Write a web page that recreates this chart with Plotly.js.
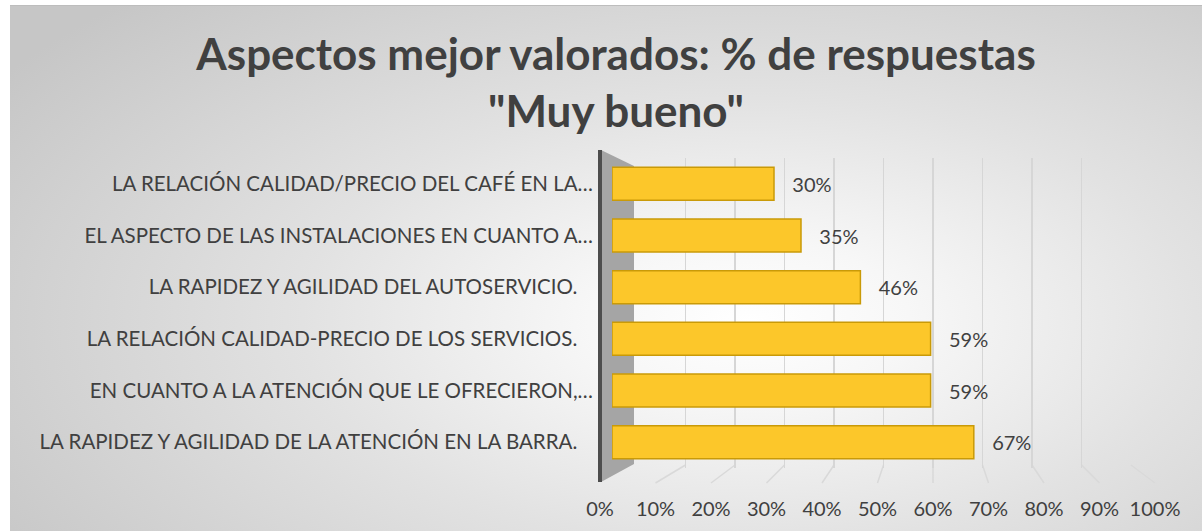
<!DOCTYPE html>
<html>
<head>
<meta charset="utf-8">
<script src="https://cdn.plot.ly/plotly-3.0.1.min.js"></script>
<style>
  html, body { margin: 0; padding: 0; background: #ffffff; }
  #wrap { position: relative; width: 1202px; height: 531px; overflow: hidden; background: #ffffff; }
  #bg { position: absolute; left: 10px; top: 5px; width: 1192px; height: 526px;
        border-top: 1px solid #bdbdbd;
        background: radial-gradient(ellipse 75% 85% at 62% 60%, #ffffff 0%, #f7f7f7 18%, #e2e2e2 50%, #c6c6c6 100%); }
  #chart { position: absolute; left: 0; top: 0; width: 1202px; height: 531px; }
</style>
</head>
<body>
<div id="wrap">
  <div id="bg"></div>
  <div id="chart"></div>
</div>
<script>
// ---- data ----
const categories = [
  "LA RELACIÓN CALIDAD/PRECIO DEL CAFÉ EN LA…",
  "EL ASPECTO DE LAS INSTALACIONES EN CUANTO A…",
  "LA RAPIDEZ Y AGILIDAD DEL AUTOSERVICIO.   ",
  "LA RELACIÓN CALIDAD-PRECIO DE LOS SERVICIOS.   ",
  "EN CUANTO A LA ATENCIÓN QUE LE OFRECIERON,…",
  "LA RAPIDEZ Y AGILIDAD DE LA ATENCIÓN EN LA BARRA.   "
];
const values = [0.30, 0.35, 0.46, 0.59, 0.59, 0.67];
const tickValues = [0, 0.1, 0.2, 0.3, 0.4, 0.5, 0.6, 0.7, 0.8, 0.9, 1.0];
const tickLabels = ["0%", "10%", "20%", "30%", "40%", "50%", "60%", "70%", "80%", "90%", "100%"];

// ---- layout helpers (pixel geometry) ----
const W = 1202, H = 531;
const px = v => v / W;
const py = v => 1 - v / H;
const backDom = [636, 1131];   // back wall gridlines
const barDom = [612, 1152];    // bars (front face)
const labDom = [600, 1155];    // front axis labels
const yTop = 158, yBot = 468;

const ticks = categories.map(c => c.replace(/ /g, "\u00a0"));
const labelText = values.map(v => "\u00a0\u00a0\u00a0" + Math.round(v * 100) + "%");

const textColor = "#404040";
const fontFam = "Lato, 'Open Sans', sans-serif";

const bars = {
  type: "bar",
  orientation: "h",
  x: values,
  y: ticks,
  xaxis: "x2",
  yaxis: "y",
  marker: { color: "#FCC72A", line: { color: "#C99A08", width: 1.5 } },
  text: labelText,
  textposition: "outside",
  textfont: { family: fontFam, size: 20, color: textColor },
  cliponaxis: false,
  hoverinfo: "skip"
};
// invisible companions so the gridline axis and the label axis get drawn
const gridCarrier = { type: "scatter", mode: "none", x: values, y: ticks, xaxis: "x", yaxis: "y", hoverinfo: "skip", showlegend: false };
const labelCarrier = { type: "scatter", mode: "none", x: values, y: ticks, xaxis: "x3", yaxis: "y", hoverinfo: "skip", showlegend: false };

// floor lines and wall as decoration
const shapes = [];
tickValues.forEach(t => {
  if (t === 0) return;
  const xb = backDom[0] + t * (backDom[1] - backDom[0]);
  const xf = labDom[0] + t * (labDom[1] - labDom[0]);
  shapes.push({ type: "line", xref: "paper", yref: "paper", layer: "below",
    x0: px(xb), y0: py(465), x1: px(xf), y1: py(483),
    line: { color: "#d9d9d9", width: 1.5 } });
});
shapes.push({ type: "path", xref: "paper", yref: "paper", layer: "below",
  path: `M ${px(601)} ${py(150)} L ${px(634)} ${py(166)} L ${px(634)} ${py(464)} L ${px(601)} ${py(482)} Z`,
  fillcolor: "#a5a5a5", line: { width: 0 } });
shapes.push({ type: "line", xref: "paper", yref: "paper", layer: "above",
  x0: px(600), y0: py(150), x1: px(600), y1: py(482),
  line: { color: "#4d4d4d", width: 4 } });

const layout = {
  width: W, height: H,
  margin: { l: 0, r: 0, t: 0, b: 0 },
  paper_bgcolor: "rgba(0,0,0,0)",
  plot_bgcolor: "rgba(0,0,0,0)",
  showlegend: false,
  bargap: 0.36,
  font: { family: fontFam, color: textColor },
  title: {
    text: 'Aspectos mejor valorados: % de respuestas<br>"Muy bueno"',
    font: { family: fontFam, size: 44, color: textColor, weight: "bold" },
    x: 616 / W, xanchor: "center", xref: "container",
    y: 1 - 70 / H, yanchor: "middle", yref: "container"
  },
  xaxis: {
    domain: [px(backDom[0]), px(backDom[1])], anchor: "y",
    range: [0, 1], tickvals: tickValues, showticklabels: false,
    showgrid: true, gridcolor: "#d6d6d6", gridwidth: 1.5,
    zeroline: false, showline: false, ticks: "", fixedrange: true
  },
  xaxis2: {
    domain: [px(barDom[0]), px(barDom[1])], anchor: "y",
    range: [0, 1], showticklabels: false, showgrid: false,
    zeroline: false, showline: false, ticks: "", fixedrange: true
  },
  xaxis3: {
    domain: [px(labDom[0]), px(labDom[1])], anchor: "y",
    range: [0, 1], tickvals: tickValues, ticktext: tickLabels,
    showgrid: false, zeroline: false, showline: false, ticks: "",
    ticklabelstandoff: 27,
    tickfont: { family: fontFam, size: 20, color: textColor },
    fixedrange: true
  },
  yaxis: {
    domain: [py(yBot), py(yTop)], anchor: "x3",
    type: "category", autorange: "reversed",
    showgrid: false, zeroline: false, showline: false, ticks: "",
    ticklabelstandoff: 6,
    tickfont: { family: fontFam, size: 20.5, color: textColor },
    fixedrange: true
  },
  shapes: shapes
};

Plotly.newPlot("chart", [gridCarrier, bars, labelCarrier], layout, { displayModeBar: false, staticPlot: true });
</script>
</body>
</html>
